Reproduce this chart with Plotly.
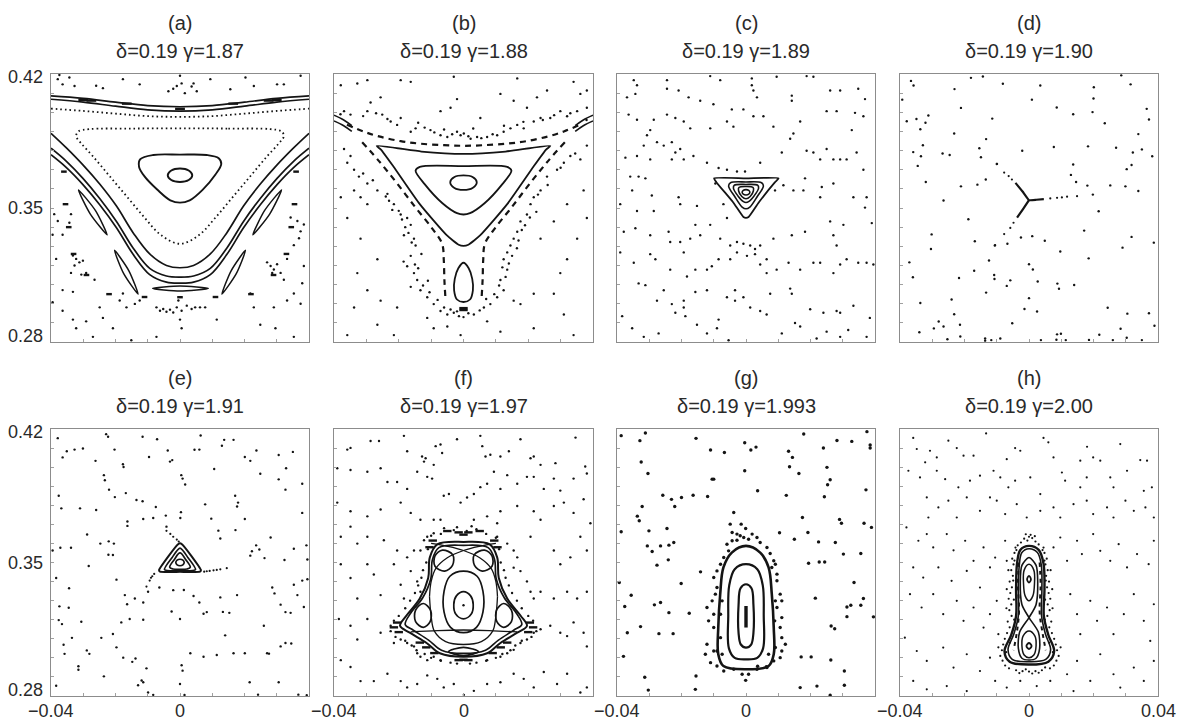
import plotly.graph_objects as go

W, H = 1180, 722
INK = "#141414"
FRAME = "#8c8c8c"
TEXT = "#2a2a2a"
FONT = "Liberation Sans, Arial, sans-serif"

# ---- panel labels -------------------------------------------------------
PANEL_TAGS = ["(a)", "(b)", "(c)", "(d)", "(e)", "(f)", "(g)", "(h)"]
DELTA = "0.19"
GAMMAS = ["1.87", "1.88", "1.89", "1.90", "1.91", "1.97", "1.993", "2.00"]

X_TICKS = [-0.04, -0.03, -0.02, -0.01, 0.0, 0.01, 0.02, 0.03, 0.04]
Y_TICKS = [0.28, 0.29, 0.30, 0.31, 0.32, 0.33, 0.34, 0.35, 0.36, 0.37,
           0.38, 0.39, 0.40, 0.41, 0.42]
X_LABELS = [(-0.04, "\u22120.04"), (0.0, "0"), (0.04, "0.04")]
Y_LABELS = [(0.28, "0.28"), (0.35, "0.35"), (0.42, "0.42")]

# panel frames in pixels: columns (left, right), rows (top, bottom)
COLS = [(51, 309), (334, 593), (617, 875), (900, 1158)]
ROWS = [(74, 342), (429, 696)]

# ---- orbit data (x, y) in units of 1e-3 ----------------------------------
# (a) gamma = 1.87
A_BAND_1 = [(-40, 408.6), (-30, 407.3), (-20, 405.3), (-10, 403.5), (0, 402.9),
            (10, 403.5), (20, 405.3), (30, 407.3), (40, 408.6)]
A_BAND_2 = [(-40, 406.8), (-30, 405.3), (-20, 403.2), (-10, 401.3), (0, 400.6),
            (10, 401.3), (20, 403.2), (30, 405.3), (40, 406.8)]
A_BAND_3 = [(-40, 401.9), (-30, 400.7), (-20, 399.3), (-10, 398.0), (0, 397.6),
            (10, 398.0), (20, 399.3), (30, 400.7), (40, 401.9)]
A_BAND_ISL = [(-30, 406.4), (-27.5, 406.1), (-16.5, 404.5), (0, 401.8), (16.5, 404.5),
              (27.5, 406.1), (30, 406.4)]
A_TRI_DOT = [(0, 391.6), (15, 391.5), (28, 391.2), (31.5, 390.0), (32.2, 387.5),
             (30.5, 383.5), (27, 377), (22, 367), (16.5, 356), (11, 345), (6, 336),
             (0, 331.3), (-6, 336), (-11, 345), (-16.5, 356), (-22, 367), (-27, 377),
             (-30.5, 383.5), (-32.2, 387.5), (-31.5, 390.0), (-28, 391.2), (-15, 391.5),
             (0, 391.6)]
A_LOOP_MID = [(0, 377.9), (8.3, 377.7), (12.0, 376.0), (12.8, 373.0), (11, 367.5),
              (7, 359.5), (3, 354), (0, 352.8), (-3, 354), (-7, 359.5), (-11, 366.5),
              (-12.7, 371.5), (-12.3, 375.5), (-8.3, 377.7), (0, 377.9)]
A_LOOP_IN = [(3.8, 367.1), (2.7, 369.6), (0, 370.6), (-2.7, 369.6), (-3.8, 367.1),
             (-2.7, 364.6), (0, 363.6), (2.7, 364.6), (3.8, 367.1)]
A_V_1 = [(-40, 389.0), (-35.3, 381.5), (-30.1, 372.5), (-24.9, 362.5), (-19.7, 351.0),
         (-14.5, 337.0), (-9.4, 326.0), (-4.2, 320.0), (0, 318.8), (4.2, 320.0),
         (9.4, 326.0), (14.5, 337.0), (19.7, 351.0), (24.9, 362.5), (30.1, 372.5),
         (35.3, 381.5), (40, 389.0)]
A_V_2 = [(-40, 381.2), (-35.3, 374.5), (-30.1, 365.5), (-24.9, 355.0), (-19.7, 343.0),
         (-14.5, 329.0), (-9.4, 318.5), (-4.2, 314.5), (0, 313.9), (4.2, 314.5),
         (9.4, 318.5), (14.5, 329.0), (19.7, 343.0), (24.9, 355.0), (30.1, 365.5),
         (35.3, 374.5), (40, 381.2)]
A_V_3 = [(-40, 377.8), (-35.3, 371.2), (-30.1, 362.2), (-24.9, 351.7), (-19.7, 339.7),
         (-14.5, 325.7), (-9.4, 315.2), (-4.2, 311.3), (0, 310.8), (4.2, 311.3),
         (9.4, 315.2), (14.5, 325.7), (19.7, 339.7), (24.9, 351.7), (30.1, 362.2),
         (35.3, 371.2), (40, 377.8)]
A_ISL_1 = [(-31.5, 359.5), (-26.2, 348.6), (-22.6, 336.0), (-27.8, 346.8), (-31.5, 359.5)]
A_ISL_2 = [(-20.3, 327.9), (-15.85, 317.2), (-13.0, 305.0), (-17.45, 315.7), (-20.3, 327.9)]
A_ISL_3 = [(-8.5, 308.0), (0, 309.2), (8.8, 308.0), (0, 306.6), (-8.5, 308.0)]
A_ISL_4 = [(20.3, 327.9), (15.85, 317.2), (13.0, 305.0), (17.45, 315.7), (20.3, 327.9)]
A_ISL_5 = [(31.5, 359.5), (26.2, 348.6), (22.6, 336.0), (27.8, 346.8), (31.5, 359.5)]
A_SMALL_ISL = [(-36, 369), (-35.5, 352), (-34.5, 340), (-33, 326), (-29, 315), (-22, 305),
               (-11, 303.5), (11, 303.5), (22, 305), (29, 315), (33, 326), (34.5, 340),
               (35.5, 352), (36, 369), (0, 303.4)]
A_SEA = [(-37.9, 417.3), (-36.4, 414.6), (-34.3, 418.2), (-32.7, 413.7), (-26, 413.9),
         (-23.9, 412.6), (-17.7, 417.3), (-12.5, 414.6), (-3.6, 411.0), (-2.1, 412.3),
         (-1.0, 413.7), (0.5, 415.1), (1.5, 410), (3.6, 413.5), (4.2, 415.1), (5.2, 411.0),
         (9.4, 417.3), (15.6, 412), (20.3, 418.2), (22.9, 413.7), (30.1, 414.6),
         (32.2, 414.6), (37.4, 419.1), (-37.4, 419.5), (0, 419.1),
         (-39, 346.8), (-37.9, 343.2), (-39.5, 336.0), (-36.4, 336.0), (-33.8, 346.8),
         (-34.3, 342.3), (-33.2, 325.2), (-32.2, 323.4), (-31.2, 321.6), (-32.7, 320.0),
         (-30.1, 322.5), (-29.1, 316.1), (-33.8, 316.1), (-30.6, 315.2), (-38.4, 323.4),
         (-36.4, 307.1), (-33.2, 306.2), (-26.5, 312.5), (-39.5, 300.8), (-36.4, 296.3),
         (-33.2, 291.7), (-32.2, 287.2), (-27, 282.7), (-29.1, 290.8), (-24.9, 298.1),
         (-23.9, 292.6), (-17.7, 305.3), (-18.7, 301.7), (-16.6, 298.1), (-14, 299.9),
         (-12.5, 301.7),
         (-7.3, 298.1), (-6.2, 296.3), (-5.2, 297.2), (-4.2, 295.8), (-3.1, 296.9),
         (-2.1, 295.4), (-1.0, 298.1), (0.5, 296.3), (2.1, 299.0), (3.6, 297.2),
         (4.7, 298.1), (6.2, 298.1), (7.8, 298.1), (-0.5, 301.7), (0, 291.7), (0.5, 287.2),
         (-7.3, 282.7), (-15.1, 280.9), (-20.8, 287.2), (11.4, 291.7),
         (27, 321.6), (28.1, 319.7), (29.1, 317.9), (30.1, 320.6), (31.2, 316.1),
         (28.6, 316.1), (32.2, 312.5), (33.2, 323.4), (35.3, 330.6), (37.4, 337.8),
         (36.9, 334.2), (34.3, 345.0), (36.4, 343.2), (38.4, 341.4), (33.2, 301.7),
         (35.3, 305.3), (37.4, 300.0), (29.1, 298.1), (24.9, 289.0), (29.6, 287.2),
         (35.3, 282.7), (21.8, 305.3), (22.9, 298.1), (38.4, 319.7), (37.9, 310.7)]

# (b) gamma = 1.88
B_TRI_OUT = [(-26.8, 382.4), (-13, 379.5), (0, 378.3), (13, 379.5), (26.8, 382.4),
             (25.5, 380.5), (21.7, 371.8), (13.5, 352.0), (5.2, 335.8), (1.5, 330.8),
             (0, 330.2), (-1.5, 330.8), (-5.2, 335.8), (-13.5, 352.0), (-21.7, 371.8),
             (-25.5, 380.5), (-26.8, 382.4)]
B_TRI_MID = [(0, 371.9), (13.5, 371.5), (14.8, 369.5), (12, 362.5), (6.5, 352.5),
             (2, 347.3), (0, 346.6), (-2, 347.3), (-6.5, 352.5), (-12, 362.5),
             (-14.8, 369.5), (-13.5, 371.5), (0, 371.9)]
B_LOOP_IN = [(4.1, 363.5), (2.8, 366.2), (0, 367.0), (-2.8, 366.2), (-4.1, 363.5),
             (-2.8, 360.5), (0, 359.5), (2.8, 360.5), (4.1, 363.5)]
B_DROP = [(0, 321.4), (1.6, 318.5), (2.7, 313), (2.9, 307), (2, 302.2), (0, 300.9),
          (-2, 302.2), (-2.9, 307), (-2.7, 313), (-1.6, 318.5), (0, 321.4)]
B_CHAIN_TOP = [(-36, 393.5), (-31, 390), (-26.1, 387.4), (-19.4, 384.9), (-13.3, 383.6),
               (-6.1, 382.8), (0, 382.5), (6.1, 382.8), (13.3, 383.6), (19.4, 384.9),
               (26.1, 387.4), (31, 390), (36, 393.5)]
B_CHAIN_L = [(-31.3, 384.4), (-26.1, 374.5), (-20.5, 362.8), (-14.8, 350.2), (-9.7, 339.4),
             (-6.6, 331.3), (-6.1, 323.2), (-5.9, 312.4), (-5.6, 303.4)]
B_CHAIN_R = [(31.3, 384.4), (26.1, 374.5), (20.5, 362.8), (14.8, 350.2), (9.7, 339.4),
             (6.6, 331.3), (6.1, 323.2), (5.9, 312.4), (5.6, 303.4)]
B_EDGE_1 = [(-40, 398.5), (-37, 396), (-34.5, 393)]
B_EDGE_2 = [(-40, 395.5), (-37, 393), (-34.5, 390)]
B_EDGE_3 = [(40, 398.5), (37, 396), (34.5, 393)]
B_EDGE_4 = [(40, 395.5), (37, 393), (34.5, 390)]
B_SMALL_ISL = [(0, 297.7), (0, 296.7)]
B_SEA = [(-36.9, 400.6), (-34.9, 398.8), (-29.7, 400.6), (-25.1, 398.8), (-22.5, 395.2),
         (-20.5, 393.4), (-19.4, 397.0), (-16.3, 389.8), (-14.8, 391.6), (-10.2, 390.7),
         (-7.1, 388.0), (-5.0, 387.1), (-2.0, 389.8), (-0.9, 388.0), (0.1, 388.9),
         (2.2, 386.2), (4.2, 387.1), (7.3, 387.1), (10.4, 388.0), (12.4, 389.8),
         (14.5, 391.6), (16.6, 393.4), (18.6, 391.6), (21.7, 395.2), (23.8, 397.0),
         (26.8, 397.0), (29.9, 400.6), (32.0, 397.9), (35.1, 400.6), (38.1, 402.4),
         (-28.7, 405.1), (-25.6, 407.8), (-7.1, 400.6), (-4.0, 402.4), (-2.0, 406.9),
         (5.2, 397.0), (11.4, 409.6), (15.5, 406.0), (19.6, 402.4), (22.7, 407.8),
         (25.8, 411.4), (36.1, 409.6), (-32.8, 415.0), (-29.7, 416.8), (-19.4, 416.8),
         (-16.3, 415.9), (-3.0, 418.6), (16.6, 417.7), (34.0, 415.9), (38.1, 411.4),
         (-37.9, 414.1), (-12, 392), (-9, 389.5), (-3.5, 388.5), (1.5, 387.5), (5.5, 386.5),
         (9, 388.5), (-23.5, 396.5), (-27, 399.5), (-31, 398), (24.5, 396), (28, 398.5),
         (33, 399.5), (-38, 399), (38, 396), (-6, 391), (3, 391.5), (12.5, 393), (-14, 394.5),
         (18.5, 395),
         (-36.9, 380.8), (-34.9, 377.2), (-35.9, 373.6), (-33.8, 370.0), (-32.3, 366.4),
         (-29.7, 362.8), (-26.6, 359.2), (-23.5, 357.4), (-23.0, 353.8), (-21.5, 352.0),
         (-19.4, 346.6), (-17.4, 344.8), (-16.3, 341.2), (-18.4, 335.8), (-15.3, 334.0),
         (-14.8, 330.4), (-16.3, 325.0), (-17.4, 319.6), (-15.3, 316.0), (-14.3, 312.4),
         (-16.3, 308.8), (-13.3, 307.0), (-11.2, 303.4), (-9.2, 299.8), (-7.1, 296.2),
         (-5.0, 294.4), (-3.0, 295.3), (-1.4, 293.5), (-29.7, 352.0), (-31.8, 355.6),
         (-33.8, 359.2), (-37.9, 355.6), (-35.9, 344.8), (-31.8, 334.0), (-26.6, 323.2),
         (-32.8, 316.0), (-29.7, 307.0), (-33.8, 298.0), (-35.9, 283.6), (-26.6, 289.0),
         (-21.5, 283.6), (-20.5, 298.0), (-25.6, 301.6), (-24, 356), (-22, 349),
         (-20, 348.5), (-18, 340), (-17, 337), (-16, 332), (-18.5, 322), (-14, 318.5),
         (-12.5, 309.5), (-10.5, 306), (-8, 302), (-28, 364.5), (-31, 368), (-19, 344),
         (-13, 326), (-15, 320.5), (-11, 312), (-6, 298), (-4, 297), (-2, 296),
         (38.1, 382.6), (36.1, 375.4), (33.0, 377.2), (31.0, 373.6), (28.9, 370.0),
         (25.8, 366.4), (23.8, 359.2), (21.7, 355.6), (20.7, 352.0), (19.6, 346.6),
         (17.6, 343.0), (16.6, 337.6), (15.5, 334.0), (14.5, 330.4), (13.5, 326.8),
         (12.4, 323.2), (13.5, 317.8), (11.4, 312.4), (12.4, 307.0), (10.4, 303.4),
         (8.3, 299.8), (6.3, 298.0), (3.2, 294.4), (15.5, 301.6), (17.6, 299.8),
         (21.7, 305.2), (27.9, 305.2), (29.9, 316.0), (32.0, 323.2), (35.1, 334.0),
         (38.1, 344.8), (32.0, 352.0), (27.9, 343.0), (23.8, 334.0), (37.1, 359.2),
         (31.0, 294.4), (34.0, 283.6), (21.7, 287.2), (11.4, 285.4), (7.3, 290.8),
         (-0.9, 283.6), (-9.2, 287.2), (-11.2, 292.6), (-5.0, 288.1), (22.5, 348), (19, 341),
         (18, 338.5), (14, 321), (15, 325), (11, 309.5), (9.5, 305), (7, 302.5), (5, 296.5),
         (1.5, 295), (0, 293), (26, 362), (30, 371), (34.5, 378.5), (20.5, 345), (16.5, 329),
         (13, 314), (23, 357), (17, 333), (12, 319)]

# (c) gamma = 1.89
C_TRI = [(-9.9, 365.5), (0, 365.5), (10.1, 365.5), (9.0, 363.5), (4, 353), (0.8, 345.3),
         (0, 344.8), (-0.8, 345.3), (-4, 353), (-9.2, 363.5), (-9.9, 365.5)]
C_LOOP_1 = [(0, 363.6), (4.8, 363.2), (5.4, 361.5), (3.5, 356), (1.2, 350.5), (0, 349.6),
            (-1.2, 350.5), (-3.5, 356), (-5.4, 361.5), (-4.8, 363.2), (0, 363.6)]
C_LOOP_2 = [(0, 362.3), (3.6, 361.9), (3.9, 360.3), (2.5, 356.3), (0.8, 353.3), (0, 352.9),
            (-0.8, 353.3), (-2.5, 356.3), (-3.9, 360.3), (-3.6, 361.9), (0, 362.3)]
C_LOOP_3 = [(0, 361.2), (2.2, 360.7), (2.3, 359), (1.3, 356), (0, 354.8), (-1.3, 356),
            (-2.3, 359), (-2.2, 360.7), (0, 361.2)]
C_LOOP_4 = [(1.2, 358.2), (0.85, 359.2), (0, 359.6), (-0.85, 359.2), (-1.2, 358.2),
            (-0.85, 357.2), (0, 356.8), (0.85, 357.2), (1.2, 358.2)]
C_SEA = [(-34.8, 416.8), (-33.8, 414.1), (-24.5, 416.8), (-11.1, 418.9), (-8.0, 416.8),
         (1.8, 417.7), (1.8, 414.1), (9.5, 418.6), (18.8, 418.9), (20.9, 418.6),
         (-36.9, 407.8), (-34.3, 409.6), (-24.5, 412.3), (-20.9, 411.4), (-17.8, 407.8),
         (-14.2, 406.0), (-10.1, 404.2), (-4.4, 401.5), (-0.8, 401.5), (3.4, 407.8),
         (2.3, 411.4), (14.2, 408.7), (14.2, 406.0), (26.1, 411.4), (29.2, 411.4),
         (34.8, 412.3), (36.9, 406.9), (-36.4, 398.8), (-33.8, 396.1), (-28.6, 396.1),
         (-24.5, 398.8), (-21.9, 397.0), (-19.3, 395.2), (-17.3, 391.6), (-11.1, 391.6),
         (-5.9, 395.2), (-3.9, 392.5), (2.3, 397.9), (5.4, 397.9), (8.5, 392.5),
         (14.7, 388.9), (16.8, 395.2), (25.0, 400.6), (28.1, 400.6), (33.8, 399.7),
         (36.4, 397.9), (-29.7, 390.7), (-30.7, 388.0), (-31.7, 382.6), (-27.6, 384.4),
         (-25.5, 382.6), (-23.0, 384.4), (-21.9, 379.0), (-20.4, 380.8), (-19.3, 375.4),
         (-23.0, 375.4), (-33.8, 377.2), (-37.4, 376.3), (-29.7, 375.4), (-16.3, 377.2),
         (-12.1, 373.6), (-8.5, 370.9), (-5.9, 370.0), (-2.8, 369.1), (-0.3, 369.1),
         (4.4, 373.6), (11.1, 379.0), (13.7, 386.2), (18.8, 379.9), (20.9, 379.0),
         (23.0, 375.4), (25.0, 380.8), (27.1, 375.4), (29.2, 375.4), (31.2, 375.4),
         (32.8, 390.7), (34.3, 379.0), (36.4, 370.0), (-35.9, 366.4), (-33.3, 366.4),
         (-31.2, 365.5), (-39.0, 352.0), (-35.3, 359.2), (-33.8, 348.4), (-29.2, 356.5),
         (-28.6, 348.4), (-20.9, 355.6), (-20.4, 352.0), (-15.2, 351.1), (-9.5, 362.8),
         (-7.0, 352.0), (-5.9, 344.8), (9.0, 359.2), (11.6, 361.9), (14.7, 359.2),
         (17.8, 359.2), (18.3, 365.5), (23.0, 355.6), (23.5, 361.0), (27.1, 362.8),
         (33.3, 355.6), (37.4, 355.6), (36.9, 350.2), (-37.9, 337.6), (-34.3, 339.4),
         (-29.7, 335.8), (-24.0, 337.6), (-23.5, 332.2), (-20.4, 332.2), (-17.3, 334.0),
         (-15.7, 341.2), (-14.2, 335.8), (-11.1, 341.2), (-8.0, 334.0), (-4.9, 330.4),
         (-2.8, 332.2), (-0.8, 331.3), (1.3, 330.4), (2.8, 328.6), (4.4, 330.4),
         (6.4, 323.2), (8.5, 334.0), (14.2, 335.8), (18.3, 337.6), (26.1, 343.0),
         (27.1, 335.8), (28.1, 330.4), (30.2, 341.2), (39.0, 342.1), (-39.0, 326.8),
         (-34.8, 321.4), (-29.7, 325.9), (-28.1, 323.2), (-23.5, 317.8), (-19.3, 326.8),
         (-18.3, 314.2), (-15.7, 317.8), (-12.1, 317.8), (-10.6, 319.6), (-8.5, 323.2),
         (-4.9, 323.2), (-2.8, 326.8), (0.3, 325.0), (2.8, 325.9), (4.4, 320.5),
         (6.4, 316.0), (9.5, 317.8), (13.2, 321.4), (16.8, 317.8), (20.9, 321.4),
         (23.0, 321.4), (27.1, 316.0), (29.2, 320.5), (31.2, 323.2), (34.8, 321.4),
         (37.4, 321.4), (39.5, 320.5), (-33.3, 310.6), (-31.2, 309.7), (-27.6, 301.6),
         (-25.5, 307.0), (-23.0, 299.8), (-19.3, 301.6), (-19.3, 298.0), (-15.7, 306.1),
         (-12.1, 307.0), (-5.9, 303.4), (-3.4, 307.0), (-3.4, 301.6), (-0.8, 303.4),
         (1.3, 298.0), (4.4, 296.2), (6.4, 294.4), (7.5, 305.2), (13.7, 307.9),
         (14.2, 305.2), (19.9, 297.1), (24.0, 295.3), (28.1, 296.2), (33.3, 298.9),
         (38.4, 292.6), (-38.4, 293.5), (-35.3, 287.2), (-31.7, 282.7), (-27.1, 284.5),
         (-21.9, 295.3), (-18.8, 293.5), (-15.2, 289.0), (-12.1, 284.5), (-9.0, 287.2),
         (-8.5, 291.7), (-5.4, 280.9), (11.1, 284.5), (15.2, 289.9), (16.8, 288.1),
         (21.9, 281.8), (25.0, 285.4), (29.2, 282.7), (31.7, 286.3), (37.4, 282.7),
         (29.2, 295.3)]

# (d) gamma = 1.90
D_ARM_1 = [(-4.2, 363.1), (-2.0, 358.6), (0, 354.1), (2.3, 354.3), (4.6, 354.6)]
D_ARM_2 = [(0, 354.1), (-1.8, 349.6), (-3.7, 345.0)]
D_ARM_DOTS = [(-5.3, 364.9), (-6.3, 366.7), (-7.7, 368.5), (-9.9, 373.0), (6.6, 355.0),
              (8.7, 355.3), (10.2, 355.5), (11.8, 355.9), (14.9, 356.2), (-4.8, 342.3),
              (-5.8, 339.6), (-7.7, 336.4), (-10.5, 330.6)]
D_SEA = [(-36.6, 416.4), (-35.8, 414.0), (-18.0, 418.0), (-14.3, 418.7), (-8.1, 414.9),
         (3.5, 414.0), (28.6, 419.3), (31.5, 414.6), (20.1, 413.1), (-39.3, 406.6),
         (-23.1, 412.1), (0.9, 406.6), (20.0, 407.2), (36.5, 401.8), (-21.1, 402.3),
         (8.6, 402.5), (13.7, 399.0), (19.7, 400.1), (-37.9, 395.3), (-34.9, 396.5),
         (-32.1, 394.5), (-31.2, 398.3), (-33.7, 391.1), (-11.4, 396.7), (23.5, 394.3),
         (37.2, 396.2), (-23.2, 388.9), (-13.3, 386.0), (33.9, 388.6), (-35.9, 379.2),
         (-32.9, 382.8), (-33.5, 377.0), (-34.5, 372.0), (-26.8, 378.5), (-24.6, 377.7),
         (-15.4, 381.2), (-14.9, 376.5), (-2.1, 379.9), (7.7, 381.9), (18.3, 382.2),
         (27.0, 381.5), (32.2, 379.0), (35.0, 380.6), (38.2, 377.0), (13.7, 372.7),
         (13.0, 367.3), (30.3, 370.3), (31.8, 372.5), (-32.0, 363.6), (-21.1, 361.3),
         (-16.0, 362.2), (-13.4, 364.9), (-10.0, 373.0), (14.6, 363.6), (18.1, 361.7),
         (25.2, 361.8), (29.9, 361.3), (33.9, 358.9), (-26.5, 353.9), (19.8, 357.0),
         (21.6, 348.3), (-18.8, 344.1), (17.1, 338.2), (-30.2, 336.2), (-30.4, 328.6),
         (-16.8, 332.6), (-10.6, 330.4), (-6.7, 331.3), (-2.5, 334.6), (1.0, 335.3),
         (4.9, 332.9), (9.7, 327.3), (29.0, 329.3), (31.8, 334.9), (38.7, 331.9),
         (-37.1, 321.6), (-36.0, 313.8), (-21.7, 313.4), (-17.0, 317.2), (-13.3, 305.8),
         (-12.4, 322.6), (-10.8, 315.0), (-10.7, 312.9), (-5.8, 312.2), (-6.9, 309.3),
         (0, 320.6), (1.2, 317.9), (2.7, 311.6), (8.8, 310.5), (9.3, 307.8), (14.0, 309.8),
         (18.5, 323.7), (-33.7, 300.4), (-24.0, 302.2), (-23.2, 294.5), (-21.4, 289.0),
         (-21.3, 282.9), (-28.0, 290.7), (-29.5, 287.1), (-26.5, 288.1), (-34.0, 285.1),
         (-25.3, 281.4), (-13.6, 281.8), (-13.6, 280.7), (-11.7, 281.0), (-8.9, 281.8),
         (-5.2, 289.8), (-1.4, 297.2), (0, 302.9), (2.5, 295.9), (3.7, 281.0), (8.7, 284.0),
         (9.9, 284.3), (8.5, 281.2), (11.4, 281.0), (18.6, 281.1), (21.8, 283.8),
         (24.4, 297.9), (30.5, 294.8), (28.4, 286.9), (30.3, 282.2), (37.2, 295.0),
         (38.9, 288.5), (35.0, 281.0), (26.0, 281.0)]

# (e) gamma = 1.91
E_TRI = [(0, 360.1), (0.6, 359.6), (3.5, 353.5), (6.5, 346.0), (6.2, 345.2), (0, 345.1),
         (-6.2, 345.2), (-6.5, 346.0), (-3.5, 353.5), (-0.6, 359.6), (0, 360.1)]
E_LOOP_1 = [(0, 357.5), (2.5, 352.5), (4.8, 346.3), (0, 345.7), (-4.8, 346.3),
            (-2.5, 352.5), (0, 357.5)]
E_LOOP_2 = [(0, 355), (1.8, 351.5), (3.2, 347.5), (2.2, 346.6), (0, 346.4), (-2.2, 346.6),
            (-3.2, 347.5), (-1.8, 351.5), (0, 355)]
E_LOOP_3 = [(1.3, 350.0), (0.9, 351.2), (0, 351.7), (-0.9, 351.2), (-1.3, 350.0),
            (-0.9, 348.8), (0, 348.3), (0.9, 348.8), (1.3, 350.0)]
E_ARM_DOTS = [(-0.4, 361.0), (-1.0, 362.0), (-2.1, 363.5), (-3.0, 365), (-4.2, 366.6),
              (-8.0, 344.0), (-8.6, 342.8), (-9.0, 342), (-9.4, 340.5), (-10.4, 337.4),
              (7.5, 345.2), (8.3, 345.4), (9.2, 345.6), (10.4, 345.9), (11.4, 346.1),
              (12.5, 346.4), (14.5, 347.0)]
E_SEA = [(-37.9, 415.2), (-36.4, 405.1), (-35.1, 408.3), (-32.7, 409.2), (-30.1, 409.8),
         (-26.2, 403.3), (-22.9, 417.3), (-22.3, 415.9), (-20.3, 409.2), (-17.7, 401.5),
         (-17.5, 400.1), (-11.6, 415.9), (-9.6, 405.3), (-7.1, 414.6), (-3.8, 408.7),
         (-3.1, 402.9), (-2.4, 403.7), (0.4, 395.8), (0.8, 394.0), (1.6, 390.9),
         (4.5, 409.1), (6.0, 409.2), (6.4, 416.6), (10.6, 399.0), (13.0, 411.2),
         (13.7, 414.3), (16.6, 414.3), (20.1, 405.3), (21.8, 403.3), (23.7, 408.7),
         (24.9, 396.5), (30.6, 406.4), (32.9, 399.4), (35.0, 408.0), (30.6, 393.6),
         (32.7, 388.2), (37.9, 391.3), (-37.6, 385.0), (-36.8, 378.4), (-31.0, 378.4),
         (-28.8, 364.7), (-26.0, 377.5), (-23.6, 395.8), (-23.3, 393.1), (-22.0, 388.2),
         (-20.2, 384.3), (-16.8, 386.4), (-16.3, 371.5), (-16.3, 369.2), (-13.5, 382.8),
         (-11.6, 382.1), (-11.4, 372.8), (-8.3, 373.3), (-7.5, 379.1), (-4.4, 374.6),
         (-4.2, 368.8), (0.3, 376.4), (0.1, 373.3), (7.8, 380.5), (9.7, 373.0),
         (11.9, 366.7), (12.5, 362.6), (17.1, 385.0), (18.0, 381.4), (17.7, 379.4),
         (17.2, 367.0), (20.1, 372.8), (23.6, 359.0), (24.6, 356.8), (26.2, 352.3),
         (28.1, 363.1), (32.4, 351.3), (35.3, 357.2), (37.9, 376.0), (39.2, 359.0),
         (39.5, 351.6), (35.3, 338.3), (37.9, 340.5), (39.5, 341.2), (-39.5, 356.3),
         (-38.4, 341.9), (-37.1, 357.7), (-34.4, 336.5), (-33.8, 357.7), (-28.3, 348.2),
         (-24.7, 359.9), (-22.1, 361.1), (-20.5, 359.9), (-22.2, 354.1), (-20.8, 353.9),
         (-19.7, 341.0), (-17.1, 332.9), (-16.4, 328.1), (-14.0, 331.1), (-11.4, 329.0),
         (-9.9, 334.7), (-6.4, 336.9), (-2.1, 335.5), (-2.6, 324.3), (0, 320.4),
         (1.2, 335.6), (4.2, 332.4), (6.0, 329.0), (7.3, 323.1), (8.3, 324.0), (12.5, 331.7),
         (13.3, 324.1), (15.3, 323.6), (17.7, 332.9), (22.3, 355.9), (21.8, 353.6),
         (28.6, 336.9), (29.3, 333.8), (31.2, 327.9), (32.7, 324.0), (36.4, 332.9),
         (38.4, 326.7), (34.3, 323.6), (-37.4, 327.0), (-34.5, 326.3), (-37.6, 319.8),
         (-36.6, 317.7), (-33.5, 310.5), (-30.6, 318.9), (-36.1, 306.9), (-35.8, 302.1),
         (-31.5, 295.6), (-31.5, 293.8), (-28.9, 303.9), (-28.1, 302.1), (-24.4, 310.5),
         (-23.6, 290.3), (-20.8, 312.5), (-19.7, 305.5), (-18.2, 318.6), (-17.6, 300.1),
         (-15.6, 320.4), (-14.8, 297.9), (-13.8, 299.7), (-11.4, 320.0), (-10.4, 294.5),
         (-11.9, 288.1), (-11.4, 287.2), (-13.0, 285.6), (-9.9, 281.8), (-8.3, 280.6),
         (0, 286.3), (0.5, 296.1), (0.8, 293.3), (3.2, 302.4), (7.3, 300.6), (11.4, 301.5),
         (14.0, 311.8), (16.6, 302.4), (20.1, 302.4), (26.0, 316.8), (27.0, 302.4),
         (27.6, 302.2), (31.2, 306.0), (32.7, 307.8), (34.5, 307.5), (30.6, 287.2),
         (24.2, 280.7), (36.7, 280.7), (39.3, 280.4), (21.6, 287.2), (1.4, 280.5),
         (-38.4, 285.4)]

# (f) gamma = 1.97
F_OVAL_1 = [(0, 334.7), (2.2, 332.5), (3.0, 328), (2.4, 323), (0, 320.4), (-2.4, 323),
            (-3.0, 328), (-2.2, 332.5), (0, 334.7)]
F_OVAL_2 = [(0, 345.5), (4.2, 342.8), (6.0, 335), (6.0, 324), (4.0, 316), (0, 313.2),
            (-4.0, 316), (-6.0, 324), (-6.0, 335), (-4.2, 342.8), (0, 345.5)]
F_SEP_A = [(-10, 360), (-5, 358.5), (0, 356.3), (5, 352.5), (8.5, 347), (10, 340),
           (10.5, 332)]
F_SEP_B = [(10, 360), (5, 358.5), (0, 356.3), (-5, 352.5), (-8.5, 347), (-10, 340),
           (-10.5, 332)]
F_SEP_C = [(-10.5, 332), (-10, 322), (-9, 314), (-5.5, 308.5), (0, 307), (5.5, 308.5),
           (9, 314), (10, 322), (10.5, 332)]
F_CROSS = [(-16.3, 313.6), (-8, 314.3), (0, 314.6), (8, 314.3), (16.6, 313.6)]
F_BELL_OUT = [(0, 360.8), (8.1, 359.5), (10.4, 352.7), (10.9, 341.9), (13.5, 331.1),
              (17.6, 322.2), (19.6, 316.8), (16.6, 313.2), (11.4, 307.8), (7.3, 302.4),
              (0, 300.6), (-7.3, 302.4), (-11.4, 307.8), (-16.6, 313.2), (-19.6, 316.8),
              (-17.6, 322.2), (-13.5, 331.1), (-10.9, 341.9), (-10.4, 352.7), (-8.1, 359.5),
              (0, 360.8)]
F_BELL_IN = [(0, 359.0), (7.6, 357.8), (9.6, 351.5), (10.1, 341.5), (12.6, 331.5),
             (16.3, 323.5), (18.0, 317.5), (15.5, 314.5), (10.8, 309.3), (6.8, 304.0),
             (0, 302.3), (-6.8, 304.0), (-10.8, 309.3), (-15.5, 314.5), (-18.0, 317.5),
             (-16.3, 323.5), (-12.6, 331.5), (-10.1, 341.5), (-9.6, 351.5), (-7.6, 357.8),
             (0, 359.0)]
F_ISL_TL = [(-8.8, 353.5), (-6.5, 356.5), (-3.3, 354), (-3.4, 348.5), (-5.8, 345.5),
            (-8.8, 348), (-8.8, 353.5)]
F_ISL_TR = [(8.8, 353.5), (6.5, 356.5), (3.3, 354), (3.4, 348.5), (5.8, 345.5),
            (8.8, 348), (8.8, 353.5)]
F_ISL_BL = [(-12.4, 328.5), (-10.2, 325), (-10.3, 319), (-12.4, 316), (-14.8, 319),
            (-14.8, 325), (-12.4, 328.5)]
F_ISL_BR = [(12.4, 328.5), (10.2, 325), (10.3, 319), (12.4, 316), (14.8, 319),
            (14.8, 325), (12.4, 328.5)]
F_ISL_B = [(-4.6, 303.3), (0, 305.5), (4.6, 303.3), (0, 301.2), (-4.6, 303.3)]
F_SMALL_ISL = [(-5, 366.5), (-1.5, 365.8), (1.5, 365.8), (5, 366.5), (0, 364.6),
               (-9.5, 361.5), (-10.5, 358), (9.5, 361.5), (10.5, 358), (-20.5, 318.5),
               (-21.5, 316), (-20, 313.5), (20.5, 318.5), (21.5, 316), (20, 313.5),
               (-13.5, 308), (-11.5, 305.5), (-9, 302.5), (13.5, 308), (11.5, 305.5),
               (9, 302.5), (0, 299), (-1.5, 298.8), (1.5, 298.8)]
F_SEA = [(-35.9, 409.2), (-34.9, 410.1), (-28.7, 413.7), (-26.1, 413.7), (-18.4, 416.4),
         (-17.4, 408.3), (-12.8, 405.6), (-11.7, 404.7), (-12.2, 402.9), (-8.6, 411.0),
         (-7.1, 411.9), (-6.6, 407.4), (-2.0, 414.6), (5.2, 416.4), (5.8, 411.0),
         (6.8, 405.6), (8.3, 406.5), (11.4, 405.6), (14.0, 408.3), (17.6, 414.6),
         (20.7, 404.7), (21.7, 405.6), (23.8, 401.2), (28.4, 402.1), (34.6, 415.5),
         (37.6, 400.3), (-39.0, 399.4), (-34.9, 398.5), (-29.7, 397.6), (-25.6, 399.4),
         (-23.5, 392.2), (-20.5, 392.2), (-17.4, 388.6), (-14.3, 397.6), (-11.2, 394.9),
         (-9.7, 394.0), (-9.2, 401.2), (-6.1, 385.0), (-4.5, 385.9), (-0.9, 381.4),
         (1.1, 384.1), (3.2, 385.9), (5.2, 389.5), (7.3, 391.3), (9.4, 397.6), (11.4, 388.6),
         (13.5, 395.8), (16.6, 391.3), (19.6, 394.9), (21.7, 394.9), (24.8, 388.6),
         (27.9, 394.0), (29.9, 387.7), (34.0, 394.0), (38.1, 396.7), (-39.0, 381.4),
         (-34.9, 376.9), (-29.7, 374.2), (-25.6, 377.8), (-19.4, 381.4), (-16.3, 376.0),
         (-13.3, 372.4), (-9.2, 372.4), (-7.1, 372.4), (-9.2, 365.3), (-11.2, 363.5),
         (3.2, 372.4), (7.3, 374.2), (10.4, 370.6), (11.4, 376.9), (16.6, 379.6),
         (21.7, 376.9), (23.8, 372.4), (27.9, 379.6), (31.0, 381.4), (34.0, 376.0),
         (37.1, 383.2), (39.2, 370.6), (-37.9, 363.5), (-34.9, 368.8), (-32.8, 359.9),
         (-29.7, 363.5), (-24.6, 361.7), (-20.5, 356.3), (-17.4, 352.7), (-15.3, 356.3),
         (-13.3, 356.3), (-12.2, 361.7), (10.4, 363.5), (13.5, 359.9), (15.5, 356.3),
         (16.6, 352.7), (20.7, 363.5), (27.9, 356.3), (29.9, 349.1), (33.0, 352.7),
         (36.1, 363.5), (38.1, 356.3), (-37.9, 349.1), (-34.9, 341.9), (-32.8, 331.1),
         (-29.7, 349.1), (-27.7, 343.7), (-25.6, 332.9), (-21.5, 349.1), (-19.4, 338.3),
         (-18.4, 331.1), (-16.3, 345.5), (-14.3, 340.1), (-13.3, 334.7), (15.5, 347.3),
         (17.6, 345.5), (19.6, 340.1), (20.7, 334.7), (21.7, 331.1), (23.8, 334.7),
         (27.9, 331.1), (32.0, 334.7), (35.1, 331.1), (38.1, 334.7), (-38.5, 320.4),
         (-34.9, 316.8), (-32.8, 309.6), (-29.7, 320.4), (-25.6, 313.2), (-22.5, 316.8),
         (-21.5, 307.8), (-19.4, 309.6), (-17.4, 307.8), (-15.3, 306.0), (-14.3, 302.4),
         (-13.3, 300.6), (-11.2, 298.8), (-9.2, 300.6), (-7.1, 298.8), (7.3, 298.8),
         (11.4, 300.6), (13.5, 302.4), (15.5, 304.2), (17.6, 307.8), (19.6, 309.6),
         (21.7, 313.2), (23.8, 315.0), (26.8, 316.8), (29.9, 313.2), (32.0, 311.4),
         (34.0, 318.6), (37.1, 313.2), (38.1, 306.0), (-37.9, 298.8), (-34.9, 295.2),
         (-31.8, 287.8), (-27.7, 287.8), (-23.5, 291.7), (-19.4, 287.8), (-17.4, 284.5),
         (-14.3, 286.3), (-11.2, 290.8), (-8.1, 289.0), (-6.1, 284.5), (-3.0, 286.3),
         (0.1, 280.6), (3.2, 282.7), (7.3, 286.3), (11.4, 287.2), (15.5, 291.7),
         (18.6, 289.0), (21.7, 284.5), (24.8, 292.6), (28.9, 286.3), (32.0, 291.7),
         (36.1, 281.8), (38.1, 284.5),
         (-11.5, 350), (-12.5, 346), (-13, 342), (-14, 338), (-15, 334), (-16.5, 330),
         (-18, 326), (-20, 322), (-21.5, 319.5), (-22.5, 314), (-21, 311), (-18, 309),
         (-16, 306.5), (-14.5, 304), (-12, 302), (-10, 300), (-7, 298.5), (-4, 297.5),
         (-2, 297), (2, 297), (4, 297.5), (7, 298.5), (10, 300), (12, 302), (14.5, 304),
         (16, 306.5), (18, 309), (21, 311), (22.5, 314), (21.5, 319.5), (20, 322), (18, 326),
         (16.5, 330), (15, 334), (14, 338), (13, 342), (12.5, 346), (11.5, 350), (-10, 364),
         (-7, 365), (-3, 367), (1, 366.5), (4, 367.5), (7, 365), (10, 363), (-11, 357),
         (11, 357), (-2, 368.5), (2.5, 369), (-6, 368)]

# (g) gamma = 1.993
G_LOOP_1 = [(0, 358.7), (4.4, 355.2), (7.0, 347.4), (8.0, 333.4), (8.6, 315.9),
            (8.6, 301.9), (7.0, 295.7), (0, 294.0), (-7.0, 295.7), (-8.6, 301.9),
            (-8.6, 315.9), (-8.0, 333.4), (-7.0, 347.4), (-4.4, 355.2), (0, 358.7)]
G_LOOP_2 = [(0, 349.1), (3.5, 346.5), (5.2, 338), (5.5, 322), (5.3, 305), (3.5, 300),
            (0, 299.2), (-3.5, 300), (-5.3, 305), (-5.5, 322), (-5.2, 338), (-3.5, 346.5),
            (0, 349.1)]
G_LOOP_3 = [(0, 338.6), (1.7, 336.5), (2.3, 328), (2.3, 313), (1.6, 307), (0, 305.4),
            (-1.6, 307), (-2.3, 313), (-2.3, 328), (-1.7, 336.5), (0, 338.6)]
G_CORE = [(0, 327.2), (0, 315.9)]
G_SEA = [(-38.7, 416.5), (-32.9, 413.9), (-31.2, 417.9), (-15.5, 415.1), (-11.0, 409.0),
         (-6.7, 407.7), (-0.4, 412.8), (1.5, 409.0), (3.1, 410.5), (17.9, 417.4),
         (13.2, 408.3), (14.4, 405.1), (24.0, 410.0), (28.2, 414.0), (32.8, 413.5),
         (37.5, 418.6), (38.5, 411.6), (38.5, 410.0), (-32.5, 402.7), (-30.4, 396.7),
         (-0.4, 398.1), (-10.5, 393.7), (-10.0, 393.7), (3.6, 387.6), (13.5, 400.2),
         (16.4, 396.7), (25.1, 399.9), (26.1, 393.4), (25.3, 390.8), (24.3, 384.5),
         (37.2, 388.1), (-25.8, 385.3), (-23.1, 383.1), (-20.0, 384.1), (-22.1, 379.4),
         (-16.4, 385.3), (-11.9, 384.6), (-32.2, 379.4), (-33.7, 374.3), (-33.1, 371.9),
         (-30.1, 366.6), (-38.7, 366.1), (-24.5, 367.8), (-3.8, 376.2), (-1.5, 370.1),
         (-0.1, 367.8), (12.5, 385.2), (17.5, 373.6), (19.2, 365.7), (10.4, 365.6),
         (15.0, 362.2), (22.5, 360.8), (27.7, 360.5), (36.6, 370.6), (29.0, 372.6),
         (29.6, 370.6), (-30.6, 358.7), (-29.1, 355.8), (-26.5, 358.7), (-23.9, 359.1),
         (-22.4, 360.5), (-24.1, 351.4), (-27.6, 348.6), (-14.1, 345.1), (-20.1, 339.0),
         (-39.3, 339.5), (-35.6, 332.8), (-37.6, 326.9), (-26.5, 329.0), (-28.4, 327.8),
         (-23.9, 323.7), (-17.6, 323.4), (-32.7, 316.4), (-36.8, 313.2), (-27.0, 312.7),
         (-22.6, 312.7), (-38.0, 300.8), (-31.4, 289.8), (-30.3, 283.1), (-15.5, 290.5),
         (-15.7, 283.5), (-0.1, 288.2), (3.6, 295.6), (6.3, 295.4), (16.8, 284.4),
         (22.0, 285.2), (26.1, 280.4), (30.5, 293.1), (30.5, 285.6), (17.1, 300.5),
         (20.2, 300.5), (26.3, 298.9), (26.4, 316.7), (27.5, 315.3), (31.3, 326.7),
         (32.5, 327.6), (31.3, 321.6), (35.6, 327.6), (36.4, 331.1), (39.5, 321.5),
         (21.5, 331.3), (19.4, 349.6), (22.7, 350.3), (24.4, 350.3), (30.2, 354.4),
         (35.6, 354.7), (33.5, 339.5), (38.9, 368.4),
         (-4.9, 370.1), (-4.3, 365.7), (-2.8, 364.9), (-1.8, 364.0), (-0.7, 363.1),
         (0.8, 362.2), (1.9, 364.9), (3.4, 363.1), (4.4, 360.5), (6.5, 357.9), (7.5, 354.7),
         (8.6, 350.9), (9.1, 349.1), (8.0, 347.4), (9.6, 343.9), (9.6, 340.4), (10.6, 333.4),
         (11.1, 329.9), (9.6, 326.4), (11.1, 321.1), (10.6, 315.9), (11.1, 310.6),
         (12.2, 307.1), (11.1, 303.6), (10.6, 300.1), (8.6, 298.4), (6.5, 294.9),
         (3.4, 294.0), (0.8, 291.4), (-1.2, 291.4), (-3.8, 294.0), (-6.9, 293.1),
         (-9.0, 295.7), (-11.0, 297.5), (-12.6, 301.9), (-10.0, 303.6), (-12.1, 307.1),
         (-10.0, 315.9), (-11.6, 319.4), (-10.0, 322.9), (-12.1, 326.4), (-10.5, 329.9),
         (-9.5, 333.4), (-9.0, 336.9), (-10.0, 342.1), (-9.0, 345.6), (-7.9, 349.1),
         (-6.9, 352.6), (-5.4, 356.1), (-5.9, 359.6), (-4.3, 361.4), (-2.8, 361.7),
         (-7.4, 329.9), (-7.9, 322.9), (-7.9, 310.6), (-7.4, 301.9), (9.1, 329.9),
         (8.9, 319.4), (9.1, 305.4), (-9.0, 303.6), (7.0, 301.9)]

# (h) gamma = 2.00
H_OUT = [(0, 358.7), (3.0, 356.6), (4.5, 349.5), (4.8, 336), (4.6, 322), (6.0, 312),
         (7.8, 303.5), (6.0, 298.0), (0, 296.5), (-6.0, 298.0), (-7.6, 303.5), (-5.5, 312),
         (-4.0, 322), (-4.0, 336), (-3.7, 349.5), (-2.7, 356.6), (0, 358.7)]
H_OUT_2 = [(0, 357.2), (2.6, 355.2), (3.8, 348.8), (4.0, 336), (3.9, 322), (5.1, 312.5),
           (6.7, 304.2), (5.2, 299.2), (0, 298.0), (-5.2, 299.2), (-6.5, 304.2),
           (-4.7, 312.5), (-3.3, 322), (-3.3, 336), (-3.0, 348.8), (-2.2, 355.2),
           (0, 357.2)]
H_EIGHT = [(0, 321.1), (-2.2, 328), (-2.7, 340), (-2.2, 348.5), (0, 352.6), (2.2, 348.5),
           (2.7, 340), (2.2, 328), (0, 321.1), (-2.9, 313.5), (-3.3, 305), (-2.2, 299.8),
           (0, 298.9), (2.2, 299.8), (3.3, 305), (2.9, 313.5), (0, 321.1)]
H_LOBE_TOP = [(0, 349.1), (1.5, 346), (1.7, 339), (1.2, 332.5), (0, 329.9), (-1.2, 332.5),
              (-1.7, 339), (-1.5, 346), (0, 349.1)]
H_LOBE_BOT = [(0, 314.1), (1.8, 311.5), (2.2, 306.5), (1.5, 301.5), (0, 300.1),
              (-1.5, 301.5), (-2.2, 306.5), (-1.8, 311.5), (0, 314.1)]
H_CORE_TOP = [(0.6, 341.2), (0, 343.0), (-0.6, 341.2), (0, 339.4), (0.6, 341.2)]
H_CORE_BOT = [(0.8, 306.2), (0, 307.8), (-0.8, 306.2), (0, 304.6), (0.8, 306.2)]
H_CHAIN_L = [(-3.2, 350), (-3.4, 338), (-3.1, 324), (-3.8, 313), (-4.8, 304)]
H_CHAIN_R = [(3.3, 350), (3.6, 338), (3.3, 324), (4.2, 313), (5.2, 304)]
H_SEA = [(-35.9, 415.3), (-34.8, 409.5), (-25.0, 413.9), (-22.4, 410.0), (-20.3, 406.0),
         (-17.2, 406.0), (-13.3, 417.7), (-6.9, 404.2), (-4.3, 410.0), (-2.7, 408.6),
         (4.5, 415.3), (6.0, 413.0), (7.6, 405.1), (18.0, 410.7), (15.9, 403.4),
         (19.9, 405.1), (22.1, 403.4), (28.3, 412.1), (34.5, 403.7), (36.6, 403.4),
         (-30.7, 408.6), (-28.6, 405.1), (-32.2, 402.5), (-37.4, 398.1), (-33.8, 394.6),
         (-28.6, 398.1), (-26.0, 393.7), (-21.9, 389.4), (-18.3, 392.9), (-15.2, 395.5),
         (-11.0, 398.1), (-8.9, 394.6), (-6.4, 389.4), (-4.3, 392.9), (0.4, 394.6),
         (3.5, 385.9), (10.2, 397.2), (11.2, 392.9), (15.9, 389.4), (17.9, 394.6),
         (25.2, 394.6), (26.2, 389.4), (30.4, 398.1), (35.6, 387.6), (38.1, 389.4),
         (-31.7, 384.1), (-28.1, 378.9), (-31.2, 373.6), (-25.0, 382.4), (-22.4, 373.6),
         (-19.3, 384.1), (-15.2, 377.1), (-12.1, 384.1), (-10.0, 382.4), (-7.4, 375.4),
         (-3.8, 380.6), (-0.7, 373.6), (3.5, 377.1), (7.6, 378.9), (9.7, 373.6),
         (13.8, 380.6), (17.9, 382.4), (19.9, 375.4), (24.2, 378.9), (26.2, 373.6),
         (29.9, 382.4), (32.5, 377.1), (36.1, 378.9), (38.7, 373.6), (-38.0, 368.4),
         (-34.3, 361.4), (-31.7, 364.9), (-29.7, 357.9), (-25.5, 364.9), (-23.4, 356.4),
         (-19.8, 361.4), (-17.2, 350.9), (-14.1, 357.9), (-12.1, 347.4), (-10.5, 352.6),
         (-7.4, 361.4), (-6.9, 350.9), (7.6, 357.9), (9.7, 363.1), (11.8, 350.9),
         (14.9, 361.4), (16.4, 354.4), (19.9, 364.9), (22.1, 356.1), (25.2, 350.9),
         (27.8, 359.6), (30.4, 347.4), (33.5, 354.4), (37.1, 349.1), (38.7, 361.4),
         (-35.9, 347.4), (-32.8, 342.1), (-28.1, 347.4), (-24.0, 340.4), (-19.3, 345.6),
         (-15.2, 336.9), (-36.9, 333.4), (-33.3, 326.4), (-29.7, 333.4), (-26.6, 322.9),
         (-22.4, 329.9), (-20.3, 319.4), (-17.2, 326.4), (-14.1, 315.9), (-12.1, 322.9),
         (-10.0, 329.9), (-9.5, 312.4), (12.8, 333.4), (14.9, 322.9), (15.9, 312.4),
         (19.0, 329.9), (21.1, 319.4), (24.2, 326.4), (26.2, 312.4), (29.4, 322.9),
         (32.5, 333.4), (35.6, 319.4), (38.7, 328.1), (37.6, 308.9), (-38.5, 310.6),
         (-34.8, 303.6), (-31.7, 298.4), (-26.6, 305.4), (-23.4, 294.9), (-19.3, 301.9),
         (-15.2, 293.1), (-12.1, 300.1), (-10.5, 287.9), (-6.9, 284.4), (-2.7, 287.9),
         (2.4, 285.2), (6.6, 287.9), (11.8, 291.4), (14.9, 298.4), (19.0, 287.9),
         (22.1, 301.9), (26.2, 291.4), (28.3, 284.4), (32.5, 294.9), (35.6, 287.9),
         (38.7, 298.4), (-35.9, 287.9), (-31.7, 283.5), (-25.5, 285.2), (-19.3, 282.6),
         (13.8, 282.6),
         (-1.5, 362.5), (0, 363.5), (1.0, 362.8), (-0.5, 361.5), (2, 361), (-2.5, 360.5),
         (3, 359.5), (-3.5, 359), (0.5, 364.5), (-1, 364.8), (1.8, 363.8),
         (-4.5, 355), (-5.2, 352), (-4.8, 349), (-5.5, 346), (-5.0, 343), (-6.0, 340),
         (-5.3, 337), (-5.8, 334), (-6.3, 331), (-5.5, 328), (-6.1, 325), (-5.4, 322),
         (-6.6, 319), (-6.0, 316), (-6.8, 313), (-7.5, 310), (-8.0, 307), (-8.4, 304),
         (-8.9, 301), (-8.2, 298.5), (-7.4, 296), (-6.2, 294.5), (-4.5, 351), (-4.9, 340.5),
         (-4.7, 330.5), (-4.6, 320), (-5.9, 308), (-7.1, 303), (-9.5, 305.5), (-7.0, 326),
         (-6.9, 336), (-6.4, 346), (-3.9, 356.5), (-4.2, 357.8),
         (4.8, 355), (5.5, 352), (5.1, 349), (5.8, 346), (5.3, 343), (6.2, 340), (5.6, 337),
         (6.1, 334), (6.6, 331), (5.8, 328), (6.4, 325), (5.7, 322), (6.9, 319), (6.3, 316),
         (7.1, 313), (7.8, 310), (8.3, 307), (8.7, 304), (9.2, 301), (8.5, 298.5),
         (7.7, 296), (6.5, 294.5), (4.8, 351), (5.2, 340.5), (5.0, 330.5), (4.9, 320),
         (6.2, 308), (7.4, 303), (9.8, 305.5), (7.3, 326), (7.2, 336), (6.7, 346),
         (4.2, 356.5), (4.5, 357.8),
         (-4, 293.5), (-2, 293), (0, 292.8), (2, 293), (4, 293.5), (-3, 292), (1, 291.8),
         (3, 292.2), (-1, 294), (5, 295)]

fig = go.Figure()


def axis_names(k):
    s = "" if k == 0 else str(k + 1)
    return "x" + s, "y" + s


def xy(points):
    return [p[0] / 1000.0 for p in points], [p[1] / 1000.0 for p in points]


def curve(k, points, width=1.8, dash=None, smooth=1.0):
    xa, ya = axis_names(k)
    x, y = xy(points)
    fig.add_trace(go.Scatter(
        x=x, y=y, mode="lines", xaxis=xa, yaxis=ya, hoverinfo="skip",
        showlegend=False,
        line=dict(color=INK, width=width, dash=dash, shape="spline",
                  smoothing=smooth)))


def dots(k, points, size=2.4):
    xa, ya = axis_names(k)
    x, y = xy(points)
    fig.add_trace(go.Scatter(
        x=x, y=y, mode="markers", xaxis=xa, yaxis=ya, hoverinfo="skip",
        showlegend=False,
        marker=dict(color=INK, size=size, line=dict(width=0))))


def dashes(k, points, size=7, width=2.4):
    xa, ya = axis_names(k)
    x, y = xy(points)
    fig.add_trace(go.Scatter(
        x=x, y=y, mode="markers", xaxis=xa, yaxis=ya, hoverinfo="skip",
        showlegend=False,
        marker=dict(symbol="line-ew", size=size,
                    line=dict(color=INK, width=width))))


CHAIN = "6px,5px"
DOTTED = "1.6px,3px"

# (a)
dots(0, A_SEA)
for c in (A_BAND_1, A_BAND_2, A_V_1, A_V_2, A_V_3):
    curve(0, c, width=1.7)
curve(0, A_BAND_3, width=1.8, dash=DOTTED)
curve(0, A_TRI_DOT, width=1.8, dash=DOTTED)
curve(0, A_LOOP_MID, width=1.9)
curve(0, A_LOOP_IN, width=1.9)
for c in (A_ISL_1, A_ISL_2, A_ISL_3, A_ISL_4, A_ISL_5):
    curve(0, c, width=1.5, smooth=0.7)
dashes(0, A_BAND_ISL, size=7)
dashes(0, A_SMALL_ISL, size=4)

# (b)
dots(1, B_SEA)
curve(1, B_TRI_OUT, width=1.8, smooth=0.5)
curve(1, B_TRI_MID, width=1.8, smooth=0.9)
curve(1, B_LOOP_IN, width=1.8)
curve(1, B_DROP, width=1.8)
for c in (B_CHAIN_TOP, B_CHAIN_L, B_CHAIN_R):
    curve(1, c, width=2.2, dash=CHAIN)
for c in (B_EDGE_1, B_EDGE_2, B_EDGE_3, B_EDGE_4):
    curve(1, c, width=1.6)
dashes(1, B_SMALL_ISL, size=6)

# (c)
dots(2, C_SEA)
curve(2, C_TRI, width=1.8, smooth=0.5)
for c in (C_LOOP_1, C_LOOP_2, C_LOOP_3, C_LOOP_4):
    curve(2, c, width=1.6)

# (d)
dots(3, D_SEA)
curve(3, D_ARM_1, width=2.2, smooth=0.3)
curve(3, D_ARM_2, width=2.2, smooth=0.3)
dots(3, D_ARM_DOTS, size=2.2)

# (e)
dots(4, E_SEA)
curve(4, E_TRI, width=2.0, smooth=0.5)
curve(4, E_LOOP_1, width=1.7, smooth=0.7)
curve(4, E_LOOP_2, width=1.7)
curve(4, E_LOOP_3, width=1.7)
dots(4, E_ARM_DOTS, size=2.2)

# (f)
dots(5, F_SEA)
curve(5, F_BELL_OUT, width=2.0)
curve(5, F_BELL_IN, width=1.7)
for c in (F_SEP_A, F_SEP_B, F_SEP_C, F_CROSS):
    curve(5, c, width=1.3)
curve(5, F_OVAL_1, width=1.7)
curve(5, F_OVAL_2, width=1.7)
for c in (F_ISL_TL, F_ISL_TR, F_ISL_BL, F_ISL_BR, F_ISL_B):
    curve(5, c, width=1.7)
dots(5, [(0, 327.6)], size=2.4)
dashes(5, F_SMALL_ISL, size=6)

# (g)
dots(6, G_SEA, size=3.4)
curve(6, G_LOOP_1, width=2.6)
curve(6, G_LOOP_2, width=2.2)
curve(6, G_LOOP_3, width=2.2)
curve(6, G_CORE, width=3.4)

# (h)
dots(7, H_SEA, size=2.2)
curve(7, H_OUT, width=2.4)
curve(7, H_OUT_2, width=1.6)
curve(7, H_EIGHT, width=1.6, smooth=0.8)
curve(7, H_LOBE_TOP, width=1.5)
curve(7, H_LOBE_BOT, width=1.5)
curve(7, H_CORE_TOP, width=1.8)
curve(7, H_CORE_BOT, width=1.8)
curve(7, H_CHAIN_L, width=2.0, dash="4px,4px")
curve(7, H_CHAIN_R, width=2.0, dash="4px,4px")

# ---- axes, frames, tick labels and titles ----------------------------------
layout = dict(
    width=W, height=H, margin=dict(l=0, r=0, t=0, b=0, autoexpand=False),
    paper_bgcolor="white", plot_bgcolor="white", showlegend=False,
    font=dict(family=FONT, size=19, color=TEXT),
)
annotations = []


def label(text, px, py, xanchor="center", size=18):
    annotations.append(dict(text=text, x=px / W, y=1 - py / H, xref="paper",
                            yref="paper", showarrow=False, xanchor=xanchor,
                            yanchor="middle", borderpad=0,
                            font=dict(family=FONT, size=size, color=TEXT)))


for k in range(8):
    r, c = divmod(k, 4)
    left, right = COLS[c]
    top, bottom = ROWS[r]
    suffix = "" if k == 0 else str(k + 1)
    common = dict(showgrid=False, zeroline=False, showline=True, linecolor=FRAME,
                  linewidth=1, mirror=True, ticks="inside", ticklen=3,
                  tickcolor="#a0a0a0", tickwidth=1, automargin=False,
                  showticklabels=False)
    layout["xaxis" + suffix] = dict(
        common, domain=[left / W, right / W], range=[-0.04, 0.04],
        anchor="y" + suffix, tickmode="array", tickvals=X_TICKS)
    layout["yaxis" + suffix] = dict(
        common, domain=[1 - bottom / H, 1 - top / H], range=[0.28, 0.42],
        anchor="x" + suffix, tickmode="array", tickvals=Y_TICKS)

    cx = (left + right) / 2
    label(PANEL_TAGS[k], cx, top - 51, size=20)
    label("\u03b4=" + DELTA + " \u03b3=" + GAMMAS[k], cx, top - 23, size=20)

    # value labels: y on the first column, x on the bottom row
    if c == 0:
        for v, t in Y_LABELS:
            py = bottom - (v - 0.28) / 0.14 * (bottom - top)
            if v == 0.42:
                py += 2.5
            elif v == 0.28:
                py -= 6
            label(t, 44, py, xanchor="right")
    if r == 1:
        for v, t in X_LABELS:
            if v == 0.04 and c < 3:
                continue
            px = left + (v + 0.04) / 0.08 * (right - left)
            label(t, px, 711)

layout["annotations"] = annotations
fig.update_layout(**layout)

fig.write_html("out.html")
